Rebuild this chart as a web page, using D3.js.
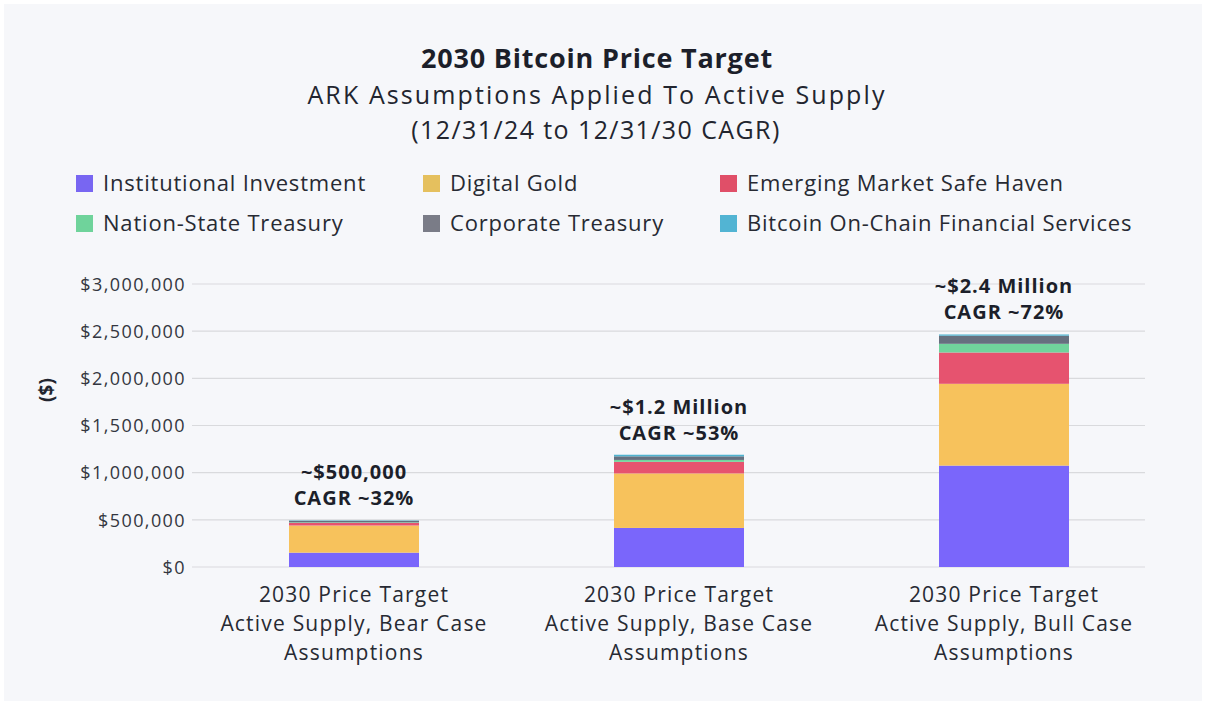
<!DOCTYPE html>
<html>
<head>
<meta charset="utf-8">
<script src="https://cdn.jsdelivr.net/npm/d3@7"></script>
<style>
  html, body { margin: 0; padding: 0; background: #ffffff; }
  svg { display: block; }
</style>
</head>
<body>
<script>
// chart data
var categories = [
  "2030 Price Target|Active Supply, Bear Case|Assumptions",
  "2030 Price Target|Active Supply, Base Case|Assumptions",
  "2030 Price Target|Active Supply, Bull Case|Assumptions"
];
var seriesNames = [
  "Institutional Investment", "Digital Gold", "Emerging Market Safe Haven",
  "Nation-State Treasury", "Corporate Treasury", "Bitcoin On-Chain Financial Services"
];
var institutional = [152000, 414000, 1075000];
var digitalGold   = [288000, 578000, 867000];
var emergingMkt   = [28000, 123000, 332000];
var nationState   = [6000, 20000, 92000];
var corporate     = [16000, 38000, 86000];
var onChain       = [4000, 17000, 13000];
var totals        = ["~$500,000", "~$1.2 Million", "~$2.4 Million"];
var cagrs         = ["CAGR ~32%", "CAGR ~53%", "CAGR ~72%"];
var yTicks        = [0, 500000, 1000000, 1500000, 2000000, 2500000, 3000000];

var barColors    = ["#7a66fb", "#f7c25c", "#e6536f", "#70d49c", "#66707f", "#4fb3cf"];
var legendColors = ["#7866f2", "#e5c05e", "#e04f68", "#6fd39b", "#7a7c87", "#52b4d3"];

var W = 1206, H = 705;
var font = "'Open Sans', 'DejaVu Sans', sans-serif";

var svg = d3.select("body").append("svg")
    .attr("width", W)
    .attr("height", H);

// panel
svg.append("rect")
    .attr("x", 4).attr("y", 4)
    .attr("width", W - 8).attr("height", H - 8)
    .attr("fill", "#f6f7fa");

//-----------------------------------------------------------------------------------
// titles
//-----------------------------------------------------------------------------------
svg.append("text")
    .attr("x", 597).attr("y", 68)
    .attr("text-anchor", "middle")
    .style("font-family", font)
    .style("font-weight", "700")
    .style("font-size", "27px")
    .style("letter-spacing", "0.8px")
    .style("fill", "#1c1f2a")
    .text("2030 Bitcoin Price Target");

svg.append("text")
    .attr("x", 597).attr("y", 104)
    .attr("text-anchor", "middle")
    .style("font-family", font)
    .style("font-size", "25px")
    .style("letter-spacing", "2.1px")
    .style("fill", "#22252f")
    .text("ARK Assumptions Applied To Active Supply");

svg.append("text")
    .attr("x", 596).attr("y", 139)
    .attr("text-anchor", "middle")
    .style("font-family", font)
    .style("font-size", "25px")
    .style("letter-spacing", "1.4px")
    .style("fill", "#22252f")
    .text("(12/31/24 to 12/31/30 CAGR)");

//-----------------------------------------------------------------------------------
// legend, 3 columns x 2 rows
//-----------------------------------------------------------------------------------
var legendX = [76, 423, 720];
var legendY = [175, 215];

var legend = svg.append("g").attr("class", "legend");
seriesNames.forEach(function(name, i) {
  var col = i % 3, row = Math.floor(i / 3);
  var g = legend.append("g")
      .attr("transform", "translate(" + legendX[col] + "," + legendY[row] + ")");
  g.append("rect")
      .attr("width", 17).attr("height", 17)
      .attr("fill", legendColors[i]);
  g.append("text")
      .attr("x", 27).attr("y", 16)
      .style("font-family", font)
      .style("font-size", "22px")
      .style("letter-spacing", "0.8px")
      .style("fill", "#272a33")
      .text(name);
});

//-----------------------------------------------------------------------------------
// scales
//-----------------------------------------------------------------------------------
var y = d3.scaleLinear()
    .domain([0, 3000000])
    .range([567, 284]);

var x = d3.scaleBand()
    .domain(categories)
    .range([256.5, 1101.5])
    .paddingInner(0.6)
    .paddingOuter(0.1);

var gridLeft = 192, gridRight = 1145;

// gridlines
svg.append("g")
  .selectAll("line")
  .data(yTicks)
  .join("line")
    .attr("x1", gridLeft).attr("x2", gridRight)
    .attr("y1", function(d) { return y(d); })
    .attr("y2", function(d) { return y(d); })
    .attr("stroke", "#d9dadd")
    .attr("stroke-width", 1.2);

// y axis labels
var yAxis = d3.axisLeft(y)
    .tickValues(yTicks)
    .tickSize(0)
    .tickPadding(0)
    .tickFormat(function(d) { return "$" + d3.format(",")(d); });

var yg = svg.append("g")
    .attr("transform", "translate(186,0)")
    .call(yAxis);
yg.select(".domain").remove();
yg.selectAll("text")
    .attr("dy", "0.35em")
    .style("font-family", font)
    .style("font-size", "18px")
    .style("letter-spacing", "1.4px")
    .style("fill", "#333640");

svg.append("text")
    .attr("transform", "translate(53,390) rotate(-90)")
    .attr("text-anchor", "middle")
    .style("font-family", font)
    .style("font-weight", "700")
    .style("font-size", "19px")
    .style("fill", "#22252f")
    .text("($)");

//-----------------------------------------------------------------------------------
// stacked bars
//-----------------------------------------------------------------------------------
var rows = categories.map(function(c, i) {
  return {
    cat: c,
    s0: institutional[i], s1: digitalGold[i], s2: emergingMkt[i],
    s3: nationState[i], s4: corporate[i], s5: onChain[i]
  };
});

var stack = d3.stack().keys(["s0", "s1", "s2", "s3", "s4", "s5"]);
var layers = stack(rows);

svg.append("g")
  .selectAll("g")
  .data(layers)
  .join("g")
    .attr("fill", function(d, i) { return barColors[i]; })
  .selectAll("rect")
  .data(function(d) { return d; })
  .join("rect")
    .attr("x", function(d) { return x(d.data.cat); })
    .attr("width", x.bandwidth())
    .attr("y", function(d) { return y(d[1]); })
    .attr("height", function(d) { return y(d[0]) - y(d[1]); });

// total annotations above bars
var topOf = rows.map(function(r) { return r.s0 + r.s1 + r.s2 + r.s3 + r.s4 + r.s5; });

var ann = svg.append("g");
categories.forEach(function(c, i) {
  var cx = x(c) + x.bandwidth() / 2;
  var ty = y(topOf[i]);
  ann.append("text")
      .attr("x", cx).attr("y", ty - 41)
      .attr("text-anchor", "middle")
      .style("font-family", font)
      .style("font-weight", "700")
      .style("font-size", "20px")
      .style("letter-spacing", "1px")
      .style("fill", "#1c1f2a")
      .text(totals[i]);
  ann.append("text")
      .attr("x", cx).attr("y", ty - 15)
      .attr("text-anchor", "middle")
      .style("font-family", font)
      .style("font-weight", "700")
      .style("font-size", "20px")
      .style("letter-spacing", "1px")
      .style("fill", "#1c1f2a")
      .text(cagrs[i]);
});

// category labels
var xl = svg.append("g");
categories.forEach(function(c) {
  var cx = x(c) + x.bandwidth() / 2;
  c.split("|").forEach(function(line, j) {
    xl.append("text")
        .attr("x", cx).attr("y", 602 + j * 29)
        .attr("text-anchor", "middle")
        .style("font-family", font)
        .style("font-size", "21px")
        .style("letter-spacing", "1.2px")
        .style("fill", "#272a33")
        .text(line);
  });
});
</script>
</body>
</html>
